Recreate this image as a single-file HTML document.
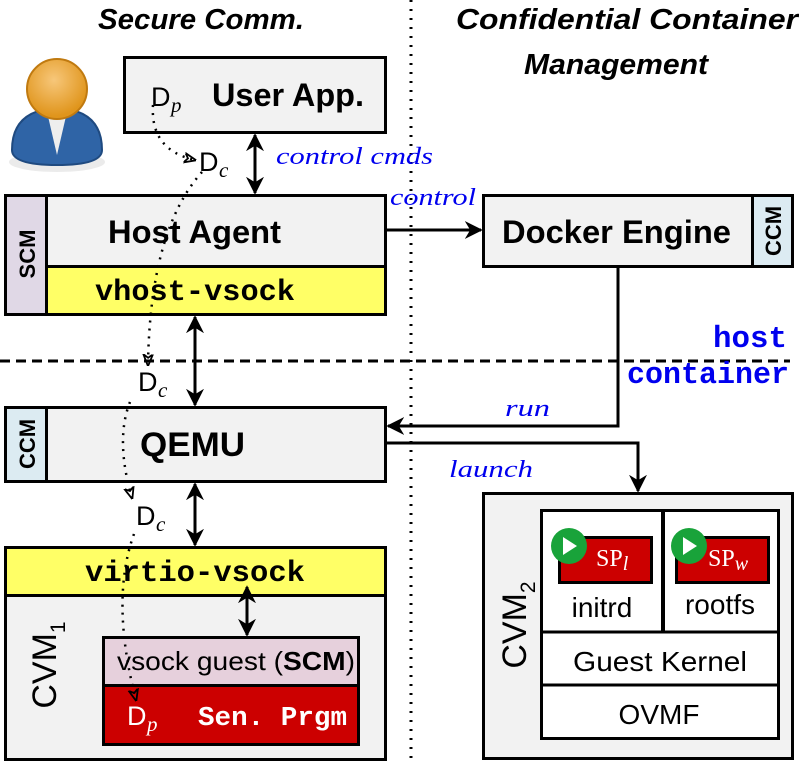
<!DOCTYPE html>
<html><head><meta charset="utf-8"><style>
html,body{margin:0;padding:0;background:#fff}
svg{display:block}
.sans{font-family:"Liberation Sans",sans-serif}
.mono{font-family:"Liberation Mono",monospace;font-weight:bold}
.ser{font-family:"Liberation Serif",serif;font-style:italic}
</style></head><body>
<svg width="799" height="764" viewBox="0 0 799 764" xmlns="http://www.w3.org/2000/svg">
<defs>
<marker id="big" viewBox="0 0 10 10" refX="9" refY="5" markerWidth="18" markerHeight="18" orient="auto-start-reverse" markerUnits="userSpaceOnUse"><path d="M0,0 L10,5 L0,10 L3,5 z" fill="#000"/></marker>
<marker id="da" viewBox="0 0 10 10" refX="9" refY="5" markerWidth="12" markerHeight="12" orient="auto" markerUnits="userSpaceOnUse"><path d="M0,1 L10,5 L0,9 L3,5 z" fill="none" stroke="#000" stroke-width="1.5"/></marker>
<radialGradient id="hd" cx="0.45" cy="0.35" r="0.6"><stop offset="0" stop-color="#f7c77a"/><stop offset="1" stop-color="#e0951c"/></radialGradient>
</defs>
<!-- titles -->
<text x="98" y="29" class="sans" font-size="29" font-weight="bold" font-style="italic" textLength="206" lengthAdjust="spacingAndGlyphs">Secure Comm.</text>
<text x="456" y="29" class="sans" font-size="29" font-weight="bold" font-style="italic" textLength="342" lengthAdjust="spacingAndGlyphs">Confidential Container</text>
<text x="524" y="74" class="sans" font-size="29" font-weight="bold" font-style="italic" textLength="184" lengthAdjust="spacingAndGlyphs">Management</text>
<!-- dividers -->
<line x1="411" y1="0" x2="411" y2="764" stroke="#000" stroke-width="3" stroke-dasharray="2,7"/>
<line x1="0" y1="361" x2="790" y2="361" stroke="#000" stroke-width="3" stroke-dasharray="10,6"/>
<text x="713" y="347" class="mono" font-size="31" fill="#0000ee" textLength="74" lengthAdjust="spacingAndGlyphs">host</text>
<text x="627" y="383" class="mono" font-size="31" fill="#0000ee" textLength="162" lengthAdjust="spacingAndGlyphs">container</text>
<!-- user icon -->
<ellipse cx="57" cy="162" rx="48" ry="10" fill="#ddd" opacity="0.6"/>
<path d="M12,150 Q12,110 57,108 Q102,110 102,150 Q102,165 57,165 Q12,165 12,150z" fill="#2f64a6" stroke="#1f4a80" stroke-width="2"/>
<path d="M47,112 L57,155 L67,112z" fill="#eee"/>
<circle cx="57" cy="89" r="30" fill="url(#hd)" stroke="#c07a10" stroke-width="2"/>
<!-- User App -->
<rect x="124.5" y="57.5" width="261" height="75" fill="#f2f2f2" stroke="#000" stroke-width="3"/>
<text x="151" y="106" class="sans" font-size="27">D</text><text x="171" y="112" class="ser" font-size="21">p</text>
<text x="212" y="106" class="sans" font-size="32" font-weight="bold" textLength="152" lengthAdjust="spacingAndGlyphs">User App.</text>
<!-- Host Agent -->
<rect x="5.5" y="195.5" width="380" height="119" fill="#f2f2f2" stroke="#000" stroke-width="3"/>
<rect x="5.5" y="195.5" width="41" height="119" fill="#e0d8e6" stroke="#000" stroke-width="3"/>
<rect x="46.5" y="266.5" width="339" height="48" fill="#ffff66" stroke="#000" stroke-width="3"/>
<text transform="translate(35,254) rotate(-90)" class="sans" font-size="22" font-weight="bold" text-anchor="middle">SCM</text>
<text x="108" y="243" class="sans" font-size="32" font-weight="bold" textLength="173" lengthAdjust="spacingAndGlyphs">Host Agent</text>
<text x="95" y="300" class="mono" font-size="30" textLength="200" lengthAdjust="spacingAndGlyphs">vhost-vsock</text>
<!-- Docker -->
<rect x="483.5" y="195.5" width="309" height="71" fill="#f2f2f2" stroke="#000" stroke-width="3"/>
<rect x="752.5" y="195.5" width="40" height="71" fill="#dcebf2" stroke="#000" stroke-width="3"/>
<text x="502" y="243" class="sans" font-size="32" font-weight="bold" textLength="229" lengthAdjust="spacingAndGlyphs">Docker Engine</text>
<text transform="translate(781,231) rotate(-90)" class="sans" font-size="22" font-weight="bold" text-anchor="middle">CCM</text>
<!-- QEMU -->
<rect x="5.5" y="407.5" width="380" height="74" fill="#f2f2f2" stroke="#000" stroke-width="3"/>
<rect x="5.5" y="407.5" width="41" height="74" fill="#dcebf2" stroke="#000" stroke-width="3"/>
<text transform="translate(35,444) rotate(-90)" class="sans" font-size="22" font-weight="bold" text-anchor="middle">CCM</text>
<text x="140" y="456" class="sans" font-size="34" font-weight="bold" textLength="105" lengthAdjust="spacingAndGlyphs">QEMU</text>
<!-- CVM1 -->
<rect x="5.5" y="547.5" width="380" height="212" fill="#f2f2f2" stroke="#000" stroke-width="3"/>
<rect x="5.5" y="547.5" width="380" height="48" fill="#ffff66" stroke="#000" stroke-width="3"/>
<text x="85" y="581" class="mono" font-size="30" textLength="220" lengthAdjust="spacingAndGlyphs">virtio-vsock</text>
<text transform="translate(56,665) rotate(-90)" class="sans" font-size="34" text-anchor="middle">CVM<tspan font-size="21" dy="9">1</tspan></text>
<rect x="103.5" y="637.5" width="255" height="48" fill="#e6d0dc" stroke="#000" stroke-width="3"/>
<rect x="103.5" y="685.5" width="255" height="59" fill="#cc0000" stroke="#000" stroke-width="3"/>
<text x="117" y="670" class="sans" font-size="26" textLength="238" lengthAdjust="spacingAndGlyphs">vsock guest (<tspan font-weight="bold">SCM</tspan>)</text>
<text x="127" y="725" class="sans" font-size="27" fill="#fff">D</text><text x="147" y="731" class="ser" font-size="21" fill="#fff">p</text>
<text x="198" y="725" class="mono" font-size="27" fill="#fff" textLength="149" lengthAdjust="spacingAndGlyphs">Sen. Prgm</text>
<!-- CVM2 -->
<rect x="483.5" y="493.5" width="309" height="265" fill="#f2f2f2" stroke="#000" stroke-width="3"/>
<text transform="translate(526,625) rotate(-90)" class="sans" font-size="34" text-anchor="middle">CVM<tspan font-size="21" dy="9">2</tspan></text>
<rect x="541.5" y="510.5" width="237" height="228" fill="#fff" stroke="#000" stroke-width="3"/>
<line x1="663" y1="510" x2="663" y2="632" stroke="#000" stroke-width="4"/>
<line x1="541" y1="632" x2="778" y2="632" stroke="#000" stroke-width="3"/>
<line x1="541" y1="685" x2="778" y2="685" stroke="#000" stroke-width="3"/>
<rect x="559.5" y="537.5" width="92" height="45" fill="#cc0000" stroke="#000" stroke-width="3"/>
<rect x="676.5" y="537.5" width="92" height="45" fill="#cc0000" stroke="#000" stroke-width="3"/>
<text x="596" y="566" font-family="Liberation Serif,serif" font-size="24" fill="#fff">SP<tspan font-style="italic" font-size="20" dy="4">l</tspan></text>
<text x="708" y="566" font-family="Liberation Serif,serif" font-size="24" fill="#fff">SP<tspan font-style="italic" font-size="20" dy="4">w</tspan></text>
<circle cx="569" cy="546" r="18" fill="#19a33a"/><path d="M563,537 L577,546 L563,555z" fill="#fff"/>
<circle cx="689" cy="546" r="18" fill="#19a33a"/><path d="M683,537 L697,546 L683,555z" fill="#fff"/>
<text x="602" y="617" class="sans" font-size="28" text-anchor="middle">initrd</text>
<text x="720" y="614" class="sans" font-size="28" text-anchor="middle">rootfs</text>
<text x="660" y="671" class="sans" font-size="28" text-anchor="middle" textLength="174" lengthAdjust="spacingAndGlyphs">Guest Kernel</text>
<text x="659" y="724" class="sans" font-size="28" text-anchor="middle">OVMF</text>
<!-- solid arrows -->
<g stroke="#000" stroke-width="3" fill="none">
<line x1="255" y1="135" x2="255" y2="193" marker-start="url(#big)" marker-end="url(#big)"/>
<line x1="195" y1="317" x2="195" y2="405" marker-start="url(#big)" marker-end="url(#big)"/>
<line x1="195" y1="484" x2="195" y2="545" marker-start="url(#big)" marker-end="url(#big)"/>
<line x1="247" y1="587" x2="247" y2="635" marker-start="url(#big)" marker-end="url(#big)"/>
<line x1="387" y1="230" x2="481" y2="230" marker-end="url(#big)"/>
<polyline points="618,267 618,426 388,426" marker-end="url(#big)"/>
<polyline points="387,443 638,443 638,491" marker-end="url(#big)"/>
</g>
<text x="276" y="164" class="ser" font-size="24" fill="#0000ee" textLength="157" lengthAdjust="spacingAndGlyphs">control cmds</text>
<text x="390" y="205" class="ser" font-size="24" fill="#0000ee" textLength="86" lengthAdjust="spacingAndGlyphs">control</text>
<text x="505" y="416" class="ser" font-size="24" fill="#0000ee" textLength="45" lengthAdjust="spacingAndGlyphs">run</text>
<text x="449" y="477" class="ser" font-size="24" fill="#0000ee" textLength="84" lengthAdjust="spacingAndGlyphs">launch</text>
<!-- Dc labels -->
<text x="199" y="171" class="sans" font-size="27">D</text><text x="219" y="177" class="ser" font-size="21">c</text>
<text x="138" y="391" class="sans" font-size="27">D</text><text x="158" y="397" class="ser" font-size="21">c</text>
<text x="136" y="525" class="sans" font-size="27">D</text><text x="156" y="531" class="ser" font-size="21">c</text>
<!-- dotted flow -->
<g stroke="#000" stroke-width="2.5" fill="none" stroke-dasharray="2,6">
<path d="M153,105 Q150,150 195,160" marker-end="url(#da)"/>
<path d="M202,172 Q150,230 148,365" marker-end="url(#da)"/>
<path d="M130,402 Q115,440 132,498" marker-end="url(#da)"/>
<path d="M134,534 Q110,600 136,700" marker-end="url(#da)"/>
</g>
</svg>
</body></html>
